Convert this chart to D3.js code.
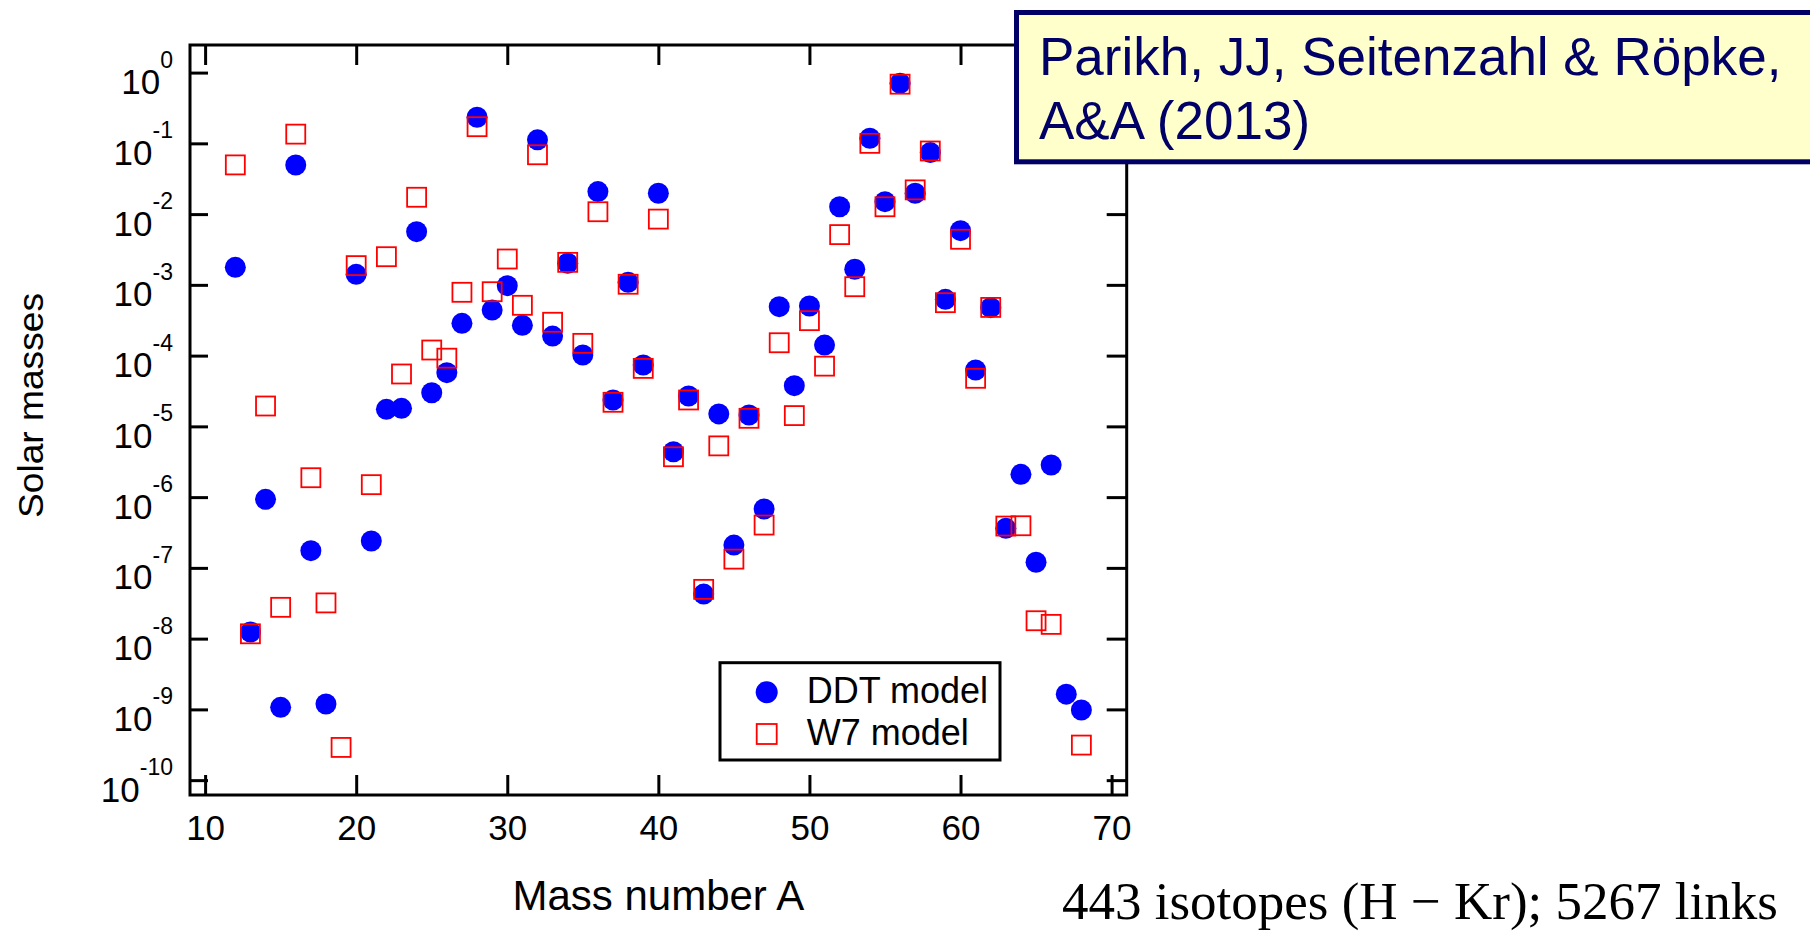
<!DOCTYPE html>
<html>
<head>
<meta charset="utf-8">
<script src="https://cdn.jsdelivr.net/npm/d3@7"></script>
<style>
  html, body { margin: 0; padding: 0; background: #fff; }
  svg { display: block; font-family: "Liberation Sans", Arial, sans-serif; }
</style>
</head>
<body>
<svg id="chart" width="1810" height="932"></svg>
<script>
// Mass number of each isotope group
const massNumbers = [12, 13, 14, 15, 16, 17, 18, 19, 20, 21, 22, 23, 24, 25, 26, 27, 28, 29, 30,
  31, 32, 33, 34, 35, 36, 37, 38, 39, 40, 41, 42, 43, 44, 45, 46, 47, 48, 49, 50,
  51, 52, 53, 54, 55, 56, 57, 58, 59, 60, 61, 62, 63, 64, 65, 66, 67, 68];

// Ejected mass (solar masses) per mass number, DDT model (null = off scale)
const ddtMass = [1.77e-3, 1.24e-8, 9.3e-7, 1.07e-9, 0.0495, 1.75e-7, 1.19e-9, null, 1.41e-3,
  2.4e-7, 1.74e-5, 1.8e-5, 5.65e-3, 2.99e-5, 5.74e-5, 2.86e-4, 0.234, 4.4e-4, 9.74e-4,
  2.68e-4, 0.112, 1.89e-4, 2.02e-3, 1.02e-4, 0.0208, 2.36e-5, 1.09e-3, 7.37e-5, 0.0197,
  4.38e-6, 2.69e-5, 4.26e-8, 1.5e-5, 2.1e-7, 1.45e-5, 6.8e-7, 4.92e-4, 3.76e-5, 5.03e-4,
  1.41e-4, 0.0127, 1.66e-3, 0.118, 0.015, 0.708, 0.0197, 0.074, 6.25e-4, 5.83e-3,
  6.26e-5, 4.76e-4, 3.62e-7, 2.1e-6, 1.2e-7, 2.84e-6, 1.64e-9, 9.8e-10];

// Ejected mass (solar masses) per mass number, W7 model (null = off scale)
const w7Mass = [0.0496, 1.17e-8, 1.94e-5, 2.77e-8, 0.135, 1.88e-6, 3.2e-8, 2.9e-10, 1.87e-3,
  1.5e-6, 2.5e-3, 5.5e-5, 0.0173, 1.2e-4, 9.2e-5, 7.85e-4, 0.172, 8.0e-4, 2.32e-3,
  5.14e-4, 0.069, 2.96e-4, 2.08e-3, 1.49e-4, 0.0108, 2.19e-5, 1.02e-3, 6.6e-5, 8.5e-3,
  3.72e-6, 2.36e-5, 4.97e-8, 5.3e-6, 1.33e-7, 1.3e-5, 4.03e-7, 1.52e-4, 1.42e-5, 3.12e-4,
  7.1e-5, 5.13e-3, 9.42e-4, 0.1, 0.0127, 0.686, 0.022, 0.078, 5.6e-4, 4.41e-3,
  4.78e-5, 4.8e-4, 3.9e-7, 3.94e-7, 1.79e-8, 1.59e-8, null, 3.13e-10];

const xTicks = [10, 20, 30, 40, 50, 60, 70];
const yTicks = [1, 1e-1, 1e-2, 1e-3, 1e-4, 1e-5, 1e-6, 1e-7, 1e-8, 1e-9, 1e-10];
const yTickExponents = ["0", "-1", "-2", "-3", "-4", "-5", "-6", "-7", "-8", "-9", "-10"];

const seriesNames = ["DDT model", "W7 model"];
const citationLines = ["Parikh, JJ, Seitenzahl & Röpke,", "A&A (2013)"];
const footnote = "443 isotopes (H \u2212 Kr); 5267 links";

const svg = d3.select("#chart");
const plot = { left: 190, right: 1126.7, top: 45, bottom: 795 };

const x = d3.scaleLinear().domain([9, 71]).range([plot.left, plot.right]);
const y = d3.scaleLog().domain([Math.pow(10, -10.21), Math.pow(10, 0.39)]).range([plot.bottom, plot.top]);

function styleAxis(g) {
  g.select(".domain").remove();
  g.selectAll(".tick line").attr("stroke", "#000").attr("stroke-width", 3);
}

// Bottom axis with labels, ticks pointing into the frame
const xAxisBottom = svg.append("g")
  .attr("transform", `translate(0,${plot.bottom})`)
  .call(d3.axisBottom(x).tickValues(xTicks).tickSize(-20).tickSizeOuter(0).tickFormat(d3.format("d")));
styleAxis(xAxisBottom);
xAxisBottom.selectAll(".tick text")
  .attr("y", 45).attr("dy", 0)
  .attr("fill", "#000")
  .style("font-size", "35px")
  .style("font-family", '"Liberation Sans", Arial, sans-serif');

// Top axis, ticks only
const xAxisTop = svg.append("g")
  .attr("transform", `translate(0,${plot.top})`)
  .call(d3.axisTop(x).tickValues(xTicks).tickSize(-20).tickSizeOuter(0).tickFormat(""));
styleAxis(xAxisTop);

// Left axis with power-of-ten labels
const yAxisLeft = svg.append("g")
  .attr("transform", `translate(${plot.left},0)`)
  .call(d3.axisLeft(y).tickValues(yTicks).tickSize(-18).tickSizeOuter(0).tickFormat(""));
styleAxis(yAxisLeft);
yAxisLeft.selectAll(".tick text").each(function (d, i) {
  const t = d3.select(this)
    .attr("x", -17).attr("y", 0).attr("dy", 0)
    .attr("text-anchor", "end")
    .attr("fill", "#000")
    .style("font-family", '"Liberation Sans", Arial, sans-serif');
  t.text(null);
  t.append("tspan").attr("dy", 21).style("font-size", "35px").text("10");
  t.append("tspan").attr("dy", -26.5).style("font-size", "23px").text(yTickExponents[i]);
});

// Right axis, ticks only
const yAxisRight = svg.append("g")
  .attr("transform", `translate(${plot.right},0)`)
  .call(d3.axisRight(y).tickValues(yTicks).tickSize(-20).tickSizeOuter(0).tickFormat(""));
styleAxis(yAxisRight);

// Plot frame
svg.append("rect")
  .attr("x", plot.left).attr("y", plot.top)
  .attr("width", plot.right - plot.left).attr("height", plot.bottom - plot.top)
  .attr("fill", "none").attr("stroke", "#000").attr("stroke-width", 3);

// Axis titles
svg.append("text")
  .attr("x", (plot.left + plot.right) / 2).attr("y", 910)
  .attr("text-anchor", "middle")
  .style("font-size", "42px")
  .attr("fill", "#000")
  .text("Mass number A");

svg.append("text")
  .attr("transform", "translate(43,405.5) rotate(-90)")
  .attr("text-anchor", "middle")
  .attr("textLength", 225).attr("lengthAdjust", "spacingAndGlyphs")
  .style("font-size", "35px")
  .attr("fill", "#000")
  .text("Solar masses");

// Data points
const ddtPoints = massNumbers.map((a, i) => ({ a, v: ddtMass[i] })).filter(d => d.v != null);
const w7Points = massNumbers.map((a, i) => ({ a, v: w7Mass[i] })).filter(d => d.v != null);

const markerR = 10.5;
const squareSide = 19;

svg.append("g").selectAll("circle")
  .data(ddtPoints)
  .join("circle")
  .attr("cx", d => x(d.a))
  .attr("cy", d => y(d.v))
  .attr("r", markerR)
  .attr("fill", "#0000ff");

svg.append("g").selectAll("rect")
  .data(w7Points)
  .join("rect")
  .attr("x", d => x(d.a) - squareSide / 2)
  .attr("y", d => y(d.v) - squareSide / 2)
  .attr("width", squareSide).attr("height", squareSide)
  .attr("fill", "none")
  .attr("stroke", "#ff0000")
  .attr("stroke-width", 1.8);

// Legend
const legend = svg.append("g");
legend.append("rect")
  .attr("x", 720).attr("y", 662.7).attr("width", 280).attr("height", 97.3)
  .attr("fill", "#fff").attr("stroke", "#000").attr("stroke-width", 3);
legend.append("circle")
  .attr("cx", 766.7).attr("cy", 692.3).attr("r", 11).attr("fill", "#0000ff");
legend.append("rect")
  .attr("x", 766.7 - 10).attr("y", 734 - 10).attr("width", 20).attr("height", 20)
  .attr("fill", "none").attr("stroke", "#ff0000").attr("stroke-width", 1.8);
legend.selectAll("text.entry")
  .data(seriesNames)
  .join("text")
  .attr("class", "entry")
  .attr("x", 806.7)
  .attr("y", (d, i) => [703, 745][i])
  .style("font-size", "36px")
  .attr("fill", "#000")
  .text(d => d);

// Citation box
const cite = svg.append("g");
cite.append("rect")
  .attr("x", 1016.5).attr("y", 12.5).attr("width", 900).attr("height", 149.3)
  .attr("fill", "#ffffcc").attr("stroke", "#000066").attr("stroke-width", 5);
cite.selectAll("text")
  .data(citationLines)
  .join("text")
  .attr("x", 1039)
  .attr("y", (d, i) => [75, 139][i])
  .style("font-size", "53px")
  .attr("fill", "#000066")
  .text(d => d);

// Network size note
svg.append("text")
  .attr("x", 1062).attr("y", 919)
  .style("font-family", '"Liberation Serif", "Times New Roman", serif')
  .style("font-size", "53px")
  .attr("fill", "#000")
  .text(footnote);
</script>
</body>
</html>
